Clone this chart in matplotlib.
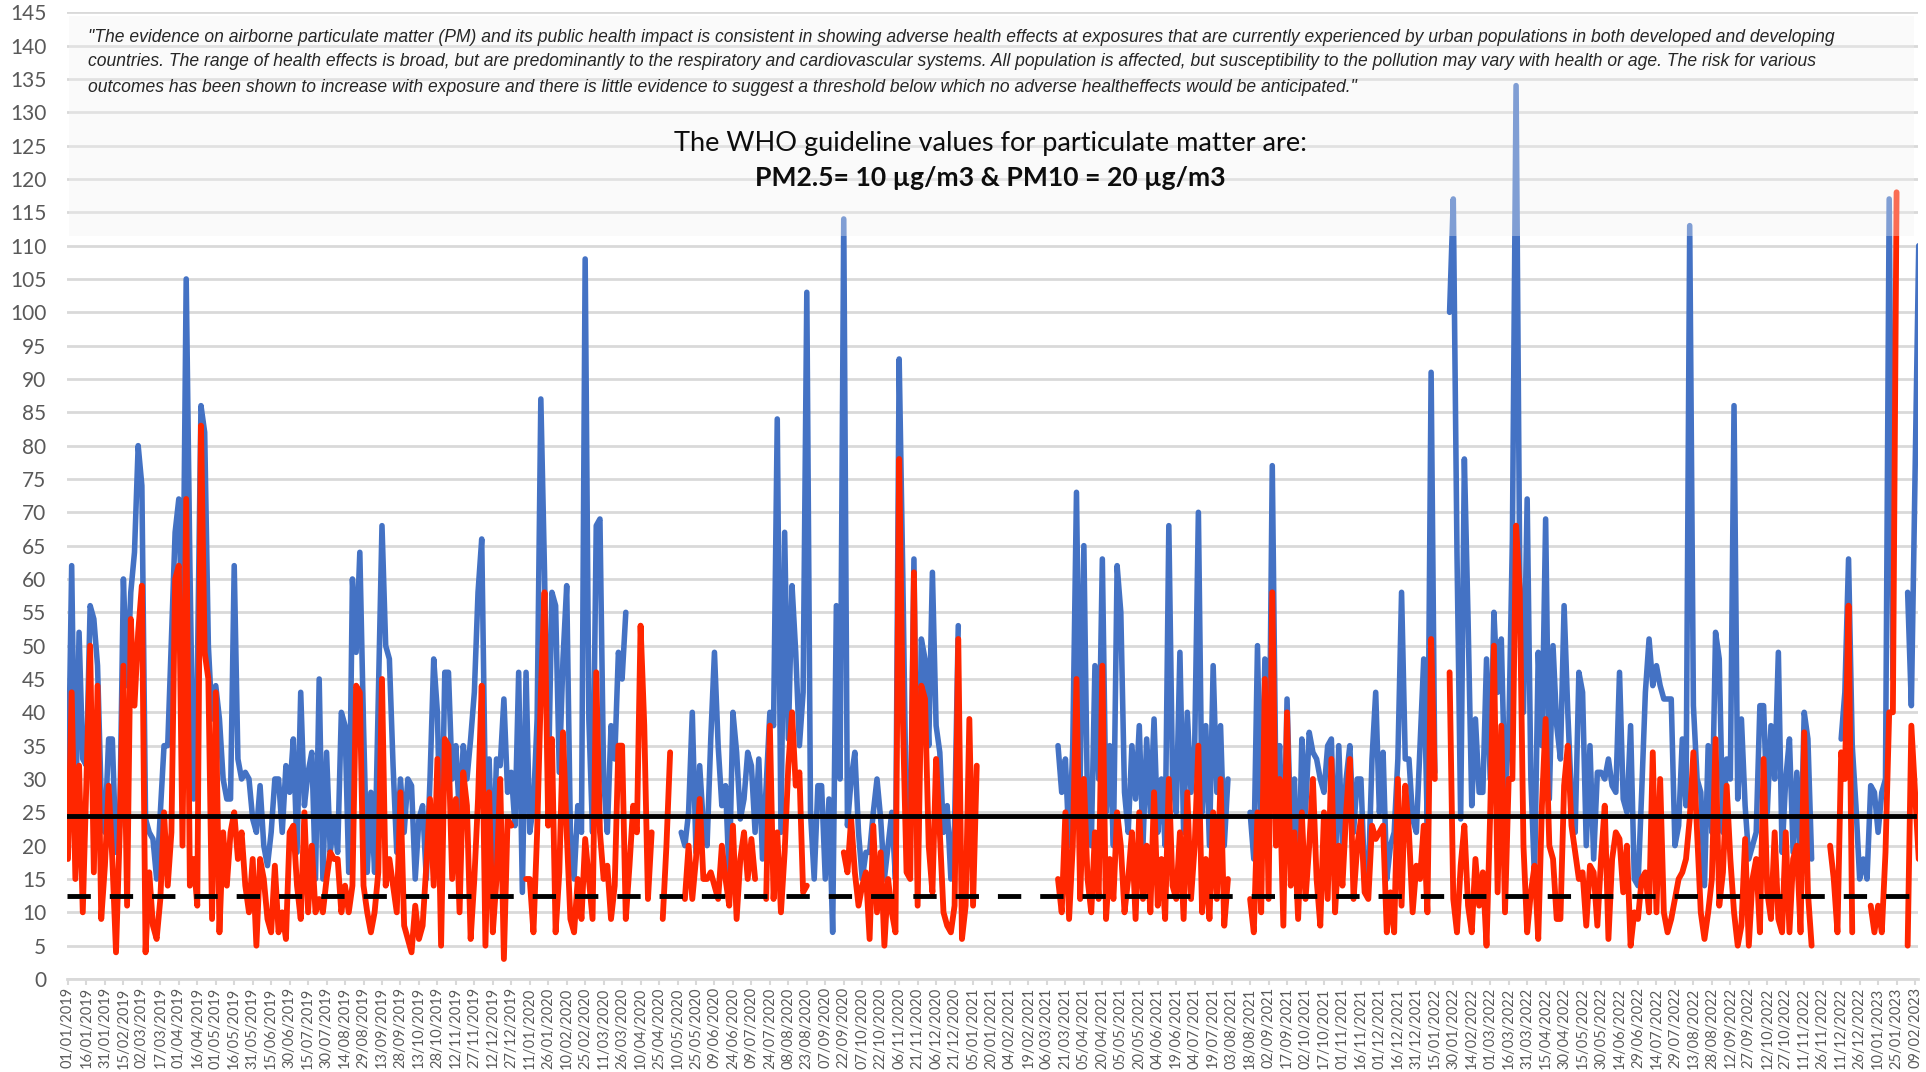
import numpy as np
import pandas as pd
import matplotlib
matplotlib.use('Agg')
import matplotlib.pyplot as plt
from matplotlib.patches import Rectangle
from matplotlib import font_manager

# Daily PM readings sampled every 3 days, 01/01/2019 onwards (ug/m3)
START = '2019-01-01'
STEP = '3D'
N = None

pm10_a = [26, 62, 22, 52, 33, 32, 56, 54, 47, 27, 22, 36, 36, 19, 23, 60, 44, 58, 64, 80, 74, 24, 22, 21, 15,
          25, 35, 35, 51, 67, 72, 47, 105, 62, 27, 45, 86, 82, 50, 39, 44, 39, 30, 27, 27, 62, 33, 30, 31, 30]
pm10_b = [24, 22, 29, 20, 17, 22, 30, 30, 22, 32, 28, 36, 19, 43, 26, 31, 34, 15, 45, 15, 34, 19, 24, 19, 40,
          38, 16, 60, 49, 64, 38, 16, 28, 16, 42, 68, 50, 48, 32, 19, 30, 22, 30, 29, 15, 24, 26, 15, 30, 48]
pm10_c = [40, 15, 46, 46, 30, 35, 24, 35, 30, 36, 43, 58, 66, 27, 33, 15, 33, 32, 42, 28, 31, 23, 46, 13, 46,
          22, 26, 39, 87, 61, 28, 58, 56, 31, 48, 59, 22, 15, 26, 22, 108, 39, 22, 68, 69, 30, 22, 38, 33, 49]
pm10_d = [45, 55, N, N, N, N, N, N, N, N, N, N, N, N, N, N, 22, 20, 25, 40, 19, 32, 23, 20, 36,
          49, 35, 26, 29, 15, 40, 34, 24, 27, 34, 32, 22, 33, 18, 29, 40, 38, 84, 22, 67, 36, 59, 49, 35, 43]
pm10_e = [103, 25, 15, 29, 29, 15, 27, 7, 56, 30, 114, 23, 30, 34, 22, 15, 19, 19, 25, 30, 24, 15, 20, 25, 15,
          93, 60, 22, 20, 63, 15, 51, 48, 35, 61, 38, 34, 22, 26, 15, 23, 53, N, N, N, N, N, N, N, N]
pm10_f = [N, N, N, N, N, N, N, N, N, N, N, N, N, N, N, N, N, N, 35, 28, 33, 20, 35, 73, 30,
          65, 25, 20, 47, 30, 63, 25, 35, 20, 62, 55, 28, 22, 35, 27, 38, 20, 36, 25, 39, 22, 30, 20, 68, 30]
pm10_g = [25, 49, 22, 40, 28, 35, 70, 25, 38, 20, 47, 28, 38, 20, 30, N, N, N, N, N, 25, 18, 50, 20, 48,
          22, 77, 28, 35, 14, 42, 22, 30, 10, 36, 25, 37, 34, 33, 30, 28, 35, 36, 15, 35, 20, 30, 35, 22, 30]
pm10_h = [30, 15, 15, 33, 43, 25, 34, 15, 20, 22, 33, 58, 33, 33, 24, 22, 35, 48, 22, 91, 31, N, N, N, 100,
          117, 64, 24, 78, 54, 26, 39, 28, 28, 48, 30, 55, 43, 51, 28, 36, 66, 134, 60, 40, 72, 30, 15, 49, 35]
pm10_i = [69, 27, 50, 38, 33, 56, 40, 27, 22, 46, 43, 20, 35, 18, 31, 31, 30, 33, 29, 28, 46, 27, 25, 38, 15,
          14, 28, 43, 51, 44, 47, 44, 42, 42, 42, 20, 23, 36, 26, 113, 41, 30, 28, 14, 35, 22, 52, 48, 22, 33]
pm10_j = [30, 86, 27, 39, 26, 18, 20, 22, 41, 41, 25, 38, 30, 49, 19, 30, 36, 19, 31, 17, 40, 36, 18, N, N,
          N, N, N, N, N, 36, 43, 63, 35, 26, 15, 18, 15, 29, 28, 22, 28, 30, 117, 45, N, N, N, 58, 41, 75, 110]

pm25_a = [18, 43, 15, 32, 10, 30, 50, 16, 44, 9, 17, 29, 18, 4, 22, 47, 11, 54, 41, 52, 59, 4, 16, 8, 6,
          12, 25, 14, 22, 60, 62, 20, 72, 14, 18, 11, 83, 49, 45, 9, 43, 7, 22, 14, 22, 25, 18, 22, 14, 10]
pm25_b = [18, 5, 18, 15, 9, 7, 17, 7, 10, 6, 22, 23, 14, 9, 25, 10, 20, 10, 12, 10, 15, 19, 18, 18, 10,
          14, 10, 14, 44, 43, 14, 10, 7, 10, 16, 45, 14, 18, 14, 10, 28, 8, 6, 4, 11, 6, 8, 17, 27, 14]
pm25_c = [33, 5, 36, 35, 15, 27, 10, 31, 26, 6, 15, 27, 44, 5, 28, 7, 15, 30, 3, 24, 23, N, N, N, 15,
          15, 7, 22, 43, 58, 23, 36, 7, 16, 37, 22, 9, 7, 15, 9, 21, 15, 9, 46, 22, 15, 17, 9, 14, 35]
pm25_d = [35, 9, 17, 26, 22, 53, 38, 12, 22, N, N, 9, 20, 34, N, N, N, 12, 20, 12, 18, 27, 15, 15, 16,
          14, 12, 20, 15, 11, 23, 9, 18, 22, 15, 21, 15, N, N, 12, 38, 12, 22, 10, 19, 32, 40, 29, 31, 13]
pm25_e = [14, N, N, N, N, N, N, N, N, N, 19, 16, 24, 16, 11, 14, 16, 6, 23, 10, 19, 5, 15, 10, 7,
          78, 39, 16, 15, 61, 11, 44, 42, 20, 13, 33, 22, 10, 8, 7, 11, 51, 6, 11, 39, 11, 32, N, N, N]
pm25_f = [N, N, N, N, N, N, N, N, N, N, N, N, N, N, N, N, N, N, 15, 10, 25, 9, 20, 45, 12,
          30, 15, 10, 22, 12, 47, 9, 18, 12, 25, 20, 10, 15, 22, 9, 25, 12, 20, 10, 28, 11, 18, 9, 30, 14]
pm25_g = [12, 22, 9, 28, 12, 20, 35, 10, 18, 9, 25, 12, 30, 8, 15, N, N, N, N, N, 12, 7, 25, 10, 45,
          12, 58, 20, 30, 8, 40, 14, 22, 9, 25, 12, 20, 30, 15, 8, 25, 12, 33, 10, 20, 14, 25, 33, 12, 20]
pm25_h = [24, 13, 12, 23, 21, 22, 23, 7, 13, 7, 30, 11, 29, 22, 10, 17, 15, 23, 10, 51, 30, N, N, N, 46,
          12, 7, 17, 23, 11, 7, 18, 11, 16, 5, 25, 50, 13, 38, 10, 30, 30, 68, 58, 20, 7, 13, 17, 6, 26]
pm25_i = [39, 20, 18, 9, 9, 29, 35, 23, 19, 15, 16, 8, 17, 16, 8, 18, 26, 6, 18, 22, 21, 13, 20, 5, 10,
          9, 15, 16, 10, 34, 10, 30, 10, 7, 9, 12, 15, 16, 18, 24, 34, 22, 10, 6, 10, 15, 36, 11, 16, 29]
pm25_j = [18, 10, 5, 8, 21, 5, 15, 18, 7, 33, 13, 9, 22, 9, 7, 22, 7, 18, 20, 7, 37, 13, 5, N, N,
          N, N, 20, 15, 7, 34, 30, 56, 7, N, N, N, N, 11, 7, 11, 7, 19, 40, 40, 118, N, N, 5, 38, 28, 18]

# period averages drawn as reference lines
PM10_AVG = 24.5
PM25_AVG = 12.4

QUOTE = [
    '"The evidence on airborne particulate matter (PM) and its public health impact is consistent in showing '
    'adverse health effects at exposures that are currently experienced by urban populations in both developed and developing',
    'countries. The range of health effects is broad, but are predominantly to the respiratory and cardiovascular '
    'systems. All population is affected, but susceptibility to the pollution may vary with health or age. The risk for various',
    'outcomes has been shown to increase with exposure and there is little evidence to suggest a threshold below '
    'which no adverse healtheffects would be anticipated."',
]
WHO_LINE = 'The WHO guideline values for particulate matter are:'
WHO_VALUES = 'PM2.5= 10 \u00b5g/m3 & PM10 = 20 \u00b5g/m3'

W, H = 1926, 1072
BLUE = '#4472C4'
RED = '#FF2600'
GREY = '#595959'

pm10 = np.array(pm10_a + pm10_b + pm10_c + pm10_d + pm10_e + pm10_f + pm10_g + pm10_h + pm10_i + pm10_j, dtype=float)
pm25 = np.array(pm25_a + pm25_b + pm25_c + pm25_d + pm25_e + pm25_f + pm25_g + pm25_h + pm25_i + pm25_j, dtype=float)
dates = pd.date_range(START, periods=len(pm10), freq=STEP)

names = {f.name for f in font_manager.fontManager.ttflist}
quote_font = 'Liberation Sans Narrow' if 'Liberation Sans Narrow' in names else 'Liberation Sans'


def px(x, y):
    return x / W, 1 - y / H


def fit_width(fig, txt, width):
    r = fig.canvas.get_renderer()
    w = txt.get_window_extent(r).width
    txt.set_fontsize(txt.get_fontsize() * width / w)
    return txt.get_fontsize()


fig = plt.figure(figsize=(W / 100, H / 100), dpi=100)
ax = fig.add_axes([67 / W, 1 - 979 / H, (1918 - 67) / W, (979 - 12.3) / H])

ax.plot(dates, pm10, color=BLUE, lw=4.0, solid_joinstyle='round', solid_capstyle='round', zorder=2)
ax.plot(dates, pm25, color=RED, lw=4.2, solid_joinstyle='round', solid_capstyle='round', zorder=3)
ax.axhline(PM10_AVG, xmin=0, xmax=0.998, color='black', lw=3.5, zorder=4)
ax.axhline(PM25_AVG, xmin=0, xmax=0.998, color='black', lw=3.5, ls=(0, (4.8, 3.9)), zorder=4)

start = pd.Timestamp(START)
ax.set_xlim(start - pd.Timedelta(days=0.8), start + pd.Timedelta(days=1502.4))
ax.set_ylim(0, 145)
ax.set_yticks(np.arange(0, 146, 5))

ticks = pd.date_range(START, periods=101, freq='15D')
ax.set_xticks(ticks)
ax.set_xticklabels([d.strftime('%d/%m/%Y') for d in ticks], rotation=90, fontfamily='Lato',
                   fontsize=10.5, color=GREY)
for lab in ax.get_yticklabels():
    lab.set_fontfamily('Lato')
ax.tick_params(axis='y', length=0, pad=15, labelsize=15, labelcolor=GREY)
ax.tick_params(axis='x', length=4, width=1.5, color='#d9d9d9', pad=2)

ax.yaxis.grid(True, color='#d9d9d9', lw=2)
ax.set_axisbelow(True)
for s in ['top', 'right', 'left']:
    ax.spines[s].set_visible(False)
ax.spines['bottom'].set_color('#d9d9d9')
ax.spines['bottom'].set_linewidth(2)

# translucent panel behind the quote
ax.add_patch(Rectangle((0.001, 111.5 / 145), 0.997, (144.4 - 111.5) / 145, transform=ax.transAxes,
                       facecolor='#f2f2f2', edgecolor='none', alpha=0.35, zorder=5, clip_on=False))

qy = [37, 62, 88]
qtexts = [fig.text(*px(88, y), line, fontsize=14, fontstyle='italic', fontfamily=quote_font,
                   color='#262626', va='center', ha='left', zorder=6) for line, y in zip(QUOTE, qy)]
size = fit_width(fig, qtexts[0], 1752)
for t in qtexts[1:]:
    t.set_fontsize(size)

t1 = fig.text(*px(990, 143), WHO_LINE, fontsize=18, fontfamily='Lato', color='#0d0d0d',
              ha='center', va='center', zorder=6)
fit_width(fig, t1, 632)
t2 = fig.text(*px(990, 178), WHO_VALUES, fontsize=18, fontfamily='Lato', fontweight='bold',
              color='#0d0d0d', ha='center', va='center', zorder=6)
fit_width(fig, t2, 471)

fig.savefig('out.png', dpi=100)
